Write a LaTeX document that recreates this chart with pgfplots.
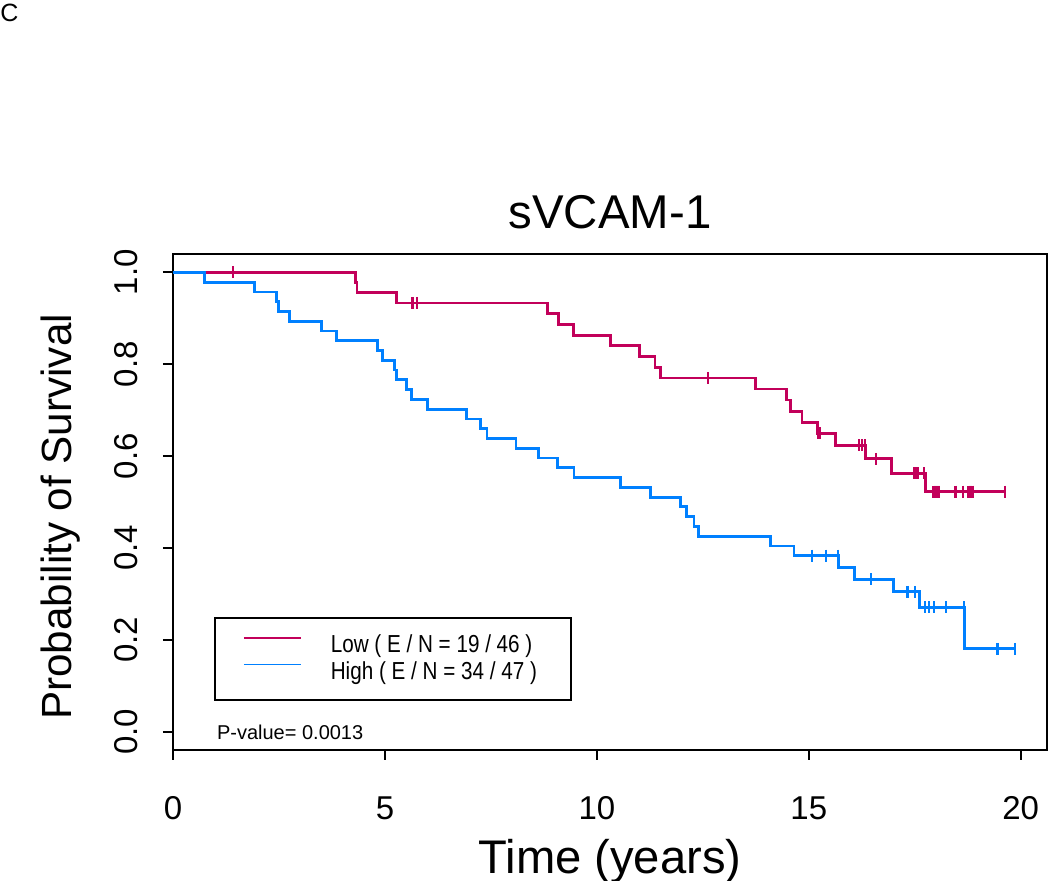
\documentclass[border=0pt]{standalone}
\usepackage{pgfplots}
\pgfplotsset{compat=1.18}
\usepackage{pgfplotstable}
\usepackage{fontspec}
\setmainfont{Liberation Sans}
\newfontfamily\legfont[FakeStretch=0.84]{Liberation Sans}
\definecolor{lowred}{RGB}{194,0,90}
\definecolor{highblue}{RGB}{0,128,255}
\newcommand{\lgtext}[1]{\makebox[106pt][l]{#1}}

\pgfplotstableread{
t s
0 1
4.31 0.9778
4.34 0.9556
5.28 0.9333
8.83 0.9100
9.09 0.8867
9.44 0.8633
10.32 0.8400
11.01 0.8167
11.37 0.7933
11.51 0.7700
13.75 0.7459
14.47 0.7219
14.57 0.6978
14.84 0.6737
15.20 0.6497
15.63 0.6237
16.34 0.5940
16.96 0.5627
17.76 0.5225
19.62 0.5225
}\lowsteps

\pgfplotstableread{
t s
1.42 1.0
5.65 0.9333
5.76 0.9333
12.63 0.7700
15.22 0.6497
15.27 0.6497
16.19 0.6237
16.26 0.6237
16.33 0.6237
16.58 0.5940
17.49 0.5627
17.53 0.5627
17.58 0.5627
17.72 0.5627
17.94 0.5225
17.97 0.5225
18.00 0.5225
18.02 0.5225
18.04 0.5225
18.06 0.5225
18.46 0.5225
18.63 0.5225
18.77 0.5225
18.80 0.5225
18.83 0.5225
18.87 0.5225
19.62 0.5225
}\lowcens

\pgfplotstableread{
t s
0 1
0.74 0.9787
1.92 0.9574
2.45 0.9362
2.48 0.9149
2.74 0.8936
3.51 0.8723
3.86 0.8511
4.83 0.8298
4.95 0.8085
5.22 0.7872
5.28 0.7660
5.51 0.7447
5.63 0.7234
6.00 0.7021
6.92 0.6809
7.26 0.6596
7.41 0.6383
8.09 0.6170
8.62 0.5957
9.07 0.5745
9.46 0.5532
10.55 0.5319
11.27 0.5106
11.98 0.4894
12.12 0.4681
12.29 0.4468
12.39 0.4255
14.10 0.4043
14.65 0.3830
15.71 0.3575
16.08 0.3320
16.99 0.3043
17.62 0.2705
18.68 0.1803
19.86 0.1803
}\highsteps

\pgfplotstableread{
t s
15.08 0.3830
15.40 0.3830
15.68 0.3830
16.46 0.3320
17.33 0.3043
17.50 0.3043
17.74 0.2705
17.84 0.2705
17.96 0.2705
18.23 0.2705
18.66 0.2705
19.45 0.1803
19.86 0.1803
}\highcens

\begin{document}
\begin{tikzpicture}
\begin{axis}[
  name=ax,
  scale only axis, width=437pt, height=248pt,
  xmin=0, xmax=20.62, ymin=-0.04, ymax=1.04,
  axis line style={line width=1pt, black},
  xtick={0,5,10,15,20},
  ytick={0,0.2,0.4,0.6,0.8,1},
  yticklabels={0.0,0.2,0.4,0.6,0.8,1.0},
  xtick pos=bottom, ytick pos=left,
  tick align=outside, major tick length=5pt,
  tick style={line width=1pt, black},
  /pgf/number format/assume math mode=true,
  ticklabel style={font=\fontsize{16.5}{18}\selectfont, inner sep=0pt},
  xticklabel style={anchor=north},
  xticklabel shift=18pt,
  yticklabel style={rotate=90, anchor=south},
  yticklabel shift=12.5pt,
  title={sVCAM-1},
  title style={at={(axis description cs:0.5,1)}, anchor=base, yshift=6.5pt, inner sep=0pt, font=\fontsize{23.7}{28}\selectfont},
  xlabel={Time (years)},
  xlabel style={at={(axis description cs:0.5,0)}, anchor=base, yshift=-62pt, inner sep=0pt, font=\fontsize{23.6}{28}\selectfont},
  ylabel={Probability of Survival},
  ylabel style={at={(axis description cs:-0.1159,0.47)}, anchor=base, inner sep=0pt, font=\fontsize{21.1}{25}\selectfont},
  legend style={
    at={(axis cs:0.97,0.2505)}, anchor=north west,
    draw=black, line width=1pt,
    font=\legfont\fontsize{12.3}{14}\selectfont,
    inner xsep=14pt, inner ysep=8.7pt,
    nodes={inner sep=0pt},
    row sep=2.9pt,
    cells={anchor=west},
    /tikz/every odd column/.append style={column sep=14.5pt},
  },
]
\addplot[const plot, lowred, line width=1.4pt,
  legend image code/.code={\draw[lowred, line width=0.85pt] (0pt,0.38em) -- (28.5pt,0.38em);}]
  table[x=t, y=s] {\lowsteps};
\addlegendentry{\lgtext{Low ( E / N = 19 / 46 )}}
\addplot[only marks, mark=|, mark size=3pt, lowred, mark options={line width=1.1pt}, forget plot] table[x=t, y=s] {\lowcens};
\addplot[const plot, highblue, line width=1.4pt,
  legend image code/.code={\draw[highblue, line width=0.85pt] (0pt,0.38em) -- (28.5pt,0.38em);}]
  table[x=t, y=s] {\highsteps};
\addlegendentry{\lgtext{High ( E / N = 34 / 47 )}}
\addplot[only marks, mark=|, mark size=3pt, highblue, mark options={line width=1.1pt}, forget plot] table[x=t, y=s] {\highcens};
\node[anchor=base west, inner sep=0pt, font=\fontsize{10}{12}\selectfont] at (axis cs:1.03,-0.018) {P-value= 0.0013};
\end{axis}
\node[anchor=base west, inner sep=0pt, font=\fontsize{12.5}{14}\selectfont] at ([shift={(-86.5pt,116.2pt)}]ax.north west) {C};
\pgfresetboundingbox
\path[use as bounding box] ([shift={(-86.5pt,-65.5pt)}]ax.south west) rectangle ([shift={(1.5pt,127pt)}]ax.north east);
\end{tikzpicture}
\end{document}
